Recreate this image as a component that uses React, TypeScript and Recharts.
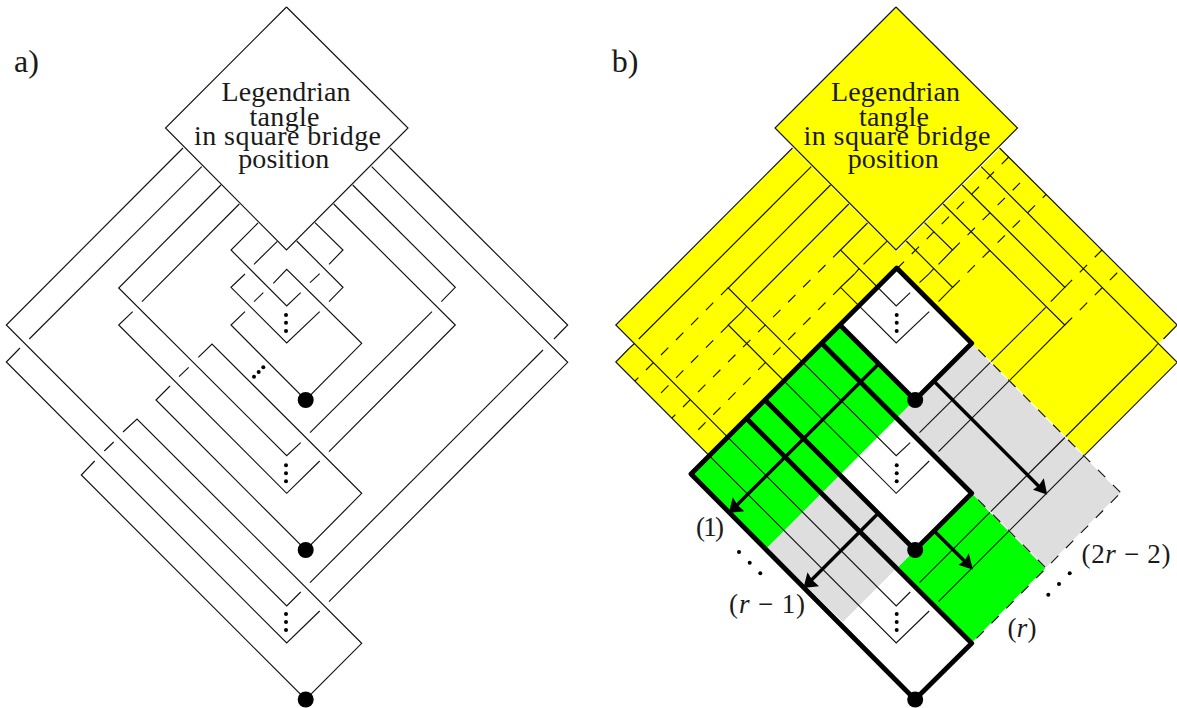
import React from 'react';
import { ComposedChart, XAxis, YAxis, Area, Line, Scatter, ReferenceDot } from 'recharts';

type Pt = [number, number];

const W = 1177;
const H = 708;
// panel b is panel a moved right
const SHIFT = 609.5;

// strands of the diagram in panel a, one list per unbroken piece
const diamond: Pt[] = [[286.5, 7], [408, 128], [286.5, 250], [165.5, 128], [286.5, 7]];
const strandPieces: Pt[][] = [
  [[183, 148], [6.3, 325], [286.7, 606], [300.7, 592]],
  [[310, 582.7], [543, 350]],
  [[554, 339], [567.7, 325], [390, 148]],
  [[201.7, 166.7], [29.3, 339]],
  [[20, 348], [6.3, 362], [286.7, 643], [319.7, 611]],
  [[329, 601.7], [567.7, 362.3], [371.7, 166.7]],
  [[221, 185], [118.7, 288], [286.7, 455.7], [300.7, 442.7]],
  [[310, 432.7], [432, 311.7]],
  [[441.3, 301.7], [455.3, 287.3], [352.7, 185]],
  [[239.3, 204], [142, 301.7]],
  [[132.7, 311.7], [118.7, 325], [286.7, 493.3], [319.7, 461]],
  [[329, 451.7], [455.3, 325], [333.7, 204]],
  [[258, 223], [231, 250], [286.7, 306], [300.7, 292.7]],
  [[310, 282.7], [319.7, 273.7]],
  [[329, 264.3], [343, 250], [315, 222.7]],
  [[277.3, 241.3], [254, 264.3]],
  [[245, 274], [231, 287.3], [286.7, 343], [319.7, 311.7]],
  [[329, 301.7], [343, 287.3], [296.7, 241]],
  [[273.3, 283.3], [286.7, 269.3], [361.7, 343.3], [305.7, 400], [231, 325], [245, 311.7]],
  [[254, 301.7], [263.3, 292.7]],
  [[198.3, 357.3], [212, 344], [361.7, 493.3], [305.7, 550], [156, 400], [170, 386]],
  [[179, 376.7], [188.7, 367.3]],
  [[123, 432], [137, 419], [361.7, 643.3], [305.7, 699.5], [81.3, 475], [94.7, 461]],
  [[104.3, 451], [113.7, 442]],
];

// panel b only: pieces that run on up to the crossing
const crossingPieces: Pt[][] = [
  [[634.5, 343.5], [629.5, 348]],
  [[746.5, 306.5], [742.2, 311.7]],
  [[859.3, 268.3], [854.5, 274]],
  [[934, 268.3], [929.2, 273.7]],
  [[1045.7, 307.3], [1041.5, 311.7]],
  [[1158, 343.5], [1152.5, 350]],
];

// panel b: dashed continuations over the yellow
const dashedPieces: Pt[][] = [
  [[728.3, 287.7], [635, 381]],
  [[728.2, 325.3], [654, 400]],
  [[840.5, 250], [672, 418]],
  [[840.5, 287.5], [691, 437]],
  [[896.7, 269], [1008.8, 157]],
  [[952.5, 250], [1027.5, 175.5]],
  [[952.5, 287.5], [1046, 194.5]],
  [[1064.8, 287.3], [1102, 250]],
  [[1064.8, 325], [1121, 269]],
];
const edgeDashes: Pt[][] = [
  [[978.3, 349.6], [1120.7, 492.7]],
  [[1118, 495.4], [971.7, 643.3]],
  [[978, 499.6], [1046, 568]],
];

// fills of panel b
const yellowRegions: Pt[][] = [
  [[775, 128], [896, 7], [1018, 128], [896, 250]],
  [[793, 148], [616, 325], [728, 437], [905, 260]],
  [[634.5, 343.5], [616, 362], [709.5, 455.5], [728, 437]],
  [[1000, 148], [1177, 325], [1065, 437], [888, 260]],
  [[1158.5, 343.5], [1177, 362], [1083.5, 455.5], [1065, 437]],
];
const greenRegions: Pt[][] = [
  [[840, 325], [915, 400], [767, 548], [691, 474]],
  [[971.7, 493.3], [1046, 568], [971.7, 643.3], [898, 567]],
];
const grayRegions: Pt[][] = [
  [[840, 475], [915, 550], [843, 622], [767, 548]],
  [[971.7, 343.3], [1120.7, 492.7], [1046, 568], [897, 417.5]],
];
const whiteRegions: Pt[][] = [
  [[896.7, 268], [971.7, 343.3], [915, 400], [840, 325]],
  [[843, 472], [898.3, 416.7], [971.7, 493.3], [915, 550]],
  [[843, 622], [898.3, 566.7], [971.7, 643.3], [915, 699.5]],
];

// heavy outline and arrows of panel b
const thickPieces: Pt[][] = [
  [[915, 400], [971.7, 343.3], [896.7, 268], [691, 474], [915, 699.5], [971.7, 643.3], [746.5, 418.5]],
  [[840, 325], [915, 400]],
  [[765, 400], [915, 550], [971.7, 493.3], [821.7, 343.3]],
];
const arrowShafts: Pt[][] = [
  [[878.8, 363.8], [735, 507]],
  [[878.3, 513.3], [809, 582.5]],
  [[935, 382.3], [1040, 487.5]],
  [[935, 531.7], [966, 562.5]],
];
const arrowHeads: Pt[][] = [
  [[728.8, 512.8], [732.8, 497.3], [737.5, 505], [744.3, 511.2]],
  [[803.5, 587.8], [807.5, 572.3], [812.2, 580], [819, 586.2]],
  [[1047.2, 494.5], [1043.8, 478.3], [1038.8, 485.5], [1033, 489.8]],
  [[972.8, 569.5], [968.8, 553.3], [964.8, 560.7], [958.3, 564.8]],
];

const bigDots: Pt[] = [[305.7, 400], [305.7, 550], [305.7, 699.5]];
const smallDotsA: Pt[] = [
  [286, 315], [286, 322.7], [286, 331],
  [286, 465.3], [286, 473.3], [286, 481.3],
  [286, 614], [286, 622], [286, 630],
  [254, 376.7], [258.7, 372], [263.3, 367.3],
];
const smallDotsB: Pt[] = [
  [896.7, 315], [896.7, 322.7], [896.7, 331],
  [896.7, 465.3], [896.7, 473.3], [896.7, 481.3],
  [896.7, 614], [896.7, 622], [896.7, 630],
  [739, 552], [749.7, 562.7], [760.3, 573.3],
  [1048.3, 594.7], [1059, 584], [1069.7, 573.3],
];

const tangleLines = ['Legendrian', 'tangle', 'in square bridge', 'position'];
const tangleAnchors: Pt[] = [[286, 101], [284.5, 126], [287.5, 145], [283.7, 168]];
const tangleWidths = [129, 70, 187, 91];
const panelLabels = ['a)', 'b)'];
const panelAnchors: Pt[] = [[26.5, 72], [625, 72]];
const mathLabels = ['(1)', '(r − 1)', '(r)', '(2r − 2)'];
const mathAnchors: Pt[] = [[710, 536], [767, 613], [1022, 637], [1126, 563]];
const mathWidths = [28, 76, 29, 89];

const rows = (pts: Pt[]) => pts.map(([x, y]) => ({ x, y }));
const shifted = (pts: Pt[]): Pt[] => pts.map(([x, y]) => [x + SHIFT, y]);

// upper and lower edge of a polygon at each of its corners, so Area can fill it
const toBand = (poly: Pt[]) => {
  const xs = Array.from(new Set(poly.map((p) => p[0]))).sort((a, b) => a - b);
  return xs.map((x) => {
    const ys: number[] = [];
    poly.forEach((p, i) => {
      const q = poly[(i + 1) % poly.length];
      if (x >= Math.min(p[0], q[0]) && x <= Math.max(p[0], q[0]) && p[0] !== q[0]) {
        ys.push(p[1] + ((q[1] - p[1]) * (x - p[0])) / (q[0] - p[0]));
      }
    });
    return { x, band: [Math.min(...ys), Math.max(...ys)] };
  });
};

const FONT = '"Liberation Serif", serif';
const INK = '#111';

const regionAreas = (regions: Pt[][], color: string, key: string) =>
  regions.map((poly, i) => (
    <Area
      key={key + i}
      data={toBand(poly)}
      dataKey="band"
      type="linear"
      stroke="none"
      fill={color}
      fillOpacity={1}
      dot={false}
      activeDot={false}
      isAnimationActive={false}
    />
  ));

const lines = (pieces: Pt[][], key: string, width: number, extra: any = {}) =>
  pieces.map((piece, i) => (
    <Line
      key={key + i}
      data={rows(piece)}
      dataKey="y"
      type="linear"
      stroke={INK}
      strokeWidth={width}
      dot={false}
      activeDot={false}
      isAnimationActive={false}
      {...extra}
    />
  ));

const textMark = (label: string, at: Pt, key: string, size: number, width?: number, math = false) => (
  <ReferenceDot
    key={key}
    x={at[0]}
    y={at[1]}
    r={0}
    shape={(p: any) => (
      <text
        x={p.cx}
        y={p.cy}
        textAnchor="middle"
        fontFamily={FONT}
        fontSize={size}
        fill="#1a1a1a"
        textLength={width}
        lengthAdjust="spacing"
      >
        {math
          ? label.split(/(r)/).map((part, i) => (
              <tspan key={i} fontStyle={part === 'r' ? 'italic' : 'normal'}>
                {part}
              </tspan>
            ))
          : label}
      </text>
    )}
  />
);

const dotShape = (r: number) => (p: any) => <circle cx={p.cx} cy={p.cy} r={r} fill="#000" />;

export default function App() {
  const allA = [diamond, ...strandPieces];
  const allB = allA.map(shifted);
  return (
    <div style={{ position: 'absolute', left: 0, top: 0, width: W, height: H, background: '#fff' }}>
      <ComposedChart width={W} height={H} margin={{ top: 0, right: 0, bottom: 0, left: 0 }}>
        <XAxis type="number" dataKey="x" domain={[0, W]} hide allowDataOverflow />
        <YAxis type="number" domain={[0, H]} reversed hide allowDataOverflow />

        {regionAreas(yellowRegions, '#ffff00', 'yellow')}
        {regionAreas(greenRegions, '#00ff00', 'green')}
        {regionAreas(grayRegions, '#dedede', 'gray')}
        {regionAreas(whiteRegions, '#ffffff', 'white')}
        {regionAreas(arrowHeads, '#000000', 'head')}

        {lines(allA, 'a', 1.15)}
        {lines(allB, 'b', 1.15)}
        {lines(crossingPieces, 'cross', 1.15)}
        {lines(dashedPieces, 'dash', 1.15, { strokeDasharray: '10.4 10.8' })}
        {lines(edgeDashes, 'edgew', 1.15, { stroke: '#fff' })}
        {lines(edgeDashes, 'edged', 1.15, { strokeDasharray: '10.4 10.8' })}
        {lines(thickPieces, 'thick', 4.8, { stroke: '#000', strokeLinejoin: 'round' })}
        {lines(arrowShafts, 'shaft', 3.4, { stroke: '#000' })}

        <Scatter data={rows(bigDots)} dataKey="y" shape={dotShape(8)} isAnimationActive={false} />
        <Scatter data={rows(shifted(bigDots))} dataKey="y" shape={dotShape(8)} isAnimationActive={false} />
        <Scatter data={rows(smallDotsA)} dataKey="y" shape={dotShape(2)} isAnimationActive={false} />
        <Scatter data={rows(smallDotsB)} dataKey="y" shape={dotShape(2)} isAnimationActive={false} />

        {tangleLines.map((t, i) => textMark(t, tangleAnchors[i], 'ta' + i, 28, tangleWidths[i]))}
        {tangleLines.map((t, i) => textMark(t, shifted(tangleAnchors)[i], 'tb' + i, 28, tangleWidths[i]))}
        {panelLabels.map((t, i) => textMark(t, panelAnchors[i], 'p' + i, 32))}
        {mathLabels.map((t, i) => textMark(t, mathAnchors[i], 'm' + i, 27, mathWidths[i], true))}
      </ComposedChart>
    </div>
  );
}
